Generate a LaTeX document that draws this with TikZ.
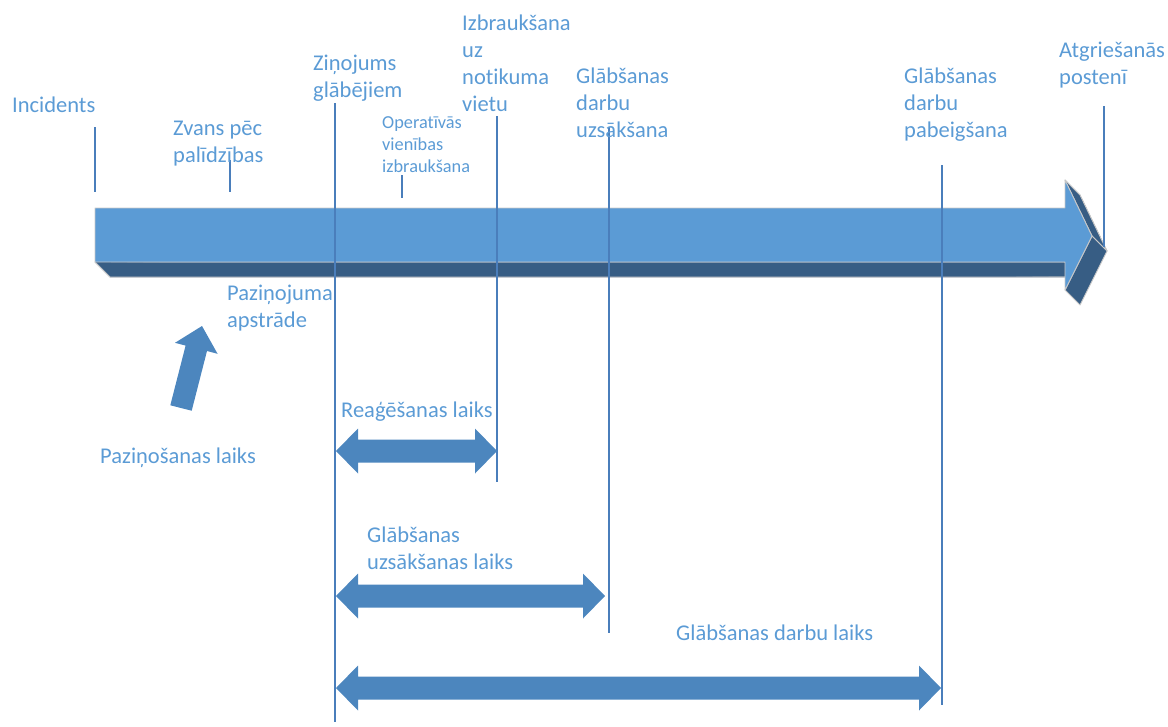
\documentclass[tikz,border=0pt]{standalone}
\usepackage{fontspec}
\setmainfont{Carlito}[Ligatures=NoCommon]
\definecolor{txt}{HTML}{5B9BD5}
\definecolor{face}{HTML}{5B9BD5}
\definecolor{side}{HTML}{375D84}
\definecolor{edgegray}{HTML}{C8C8C8}
\definecolor{tick}{HTML}{4A7EBB}
\definecolor{blk}{HTML}{4C86BE}
\newcommand\dblarrow[3]{% x1, x2, y
  \fill[blockarrow] (#1,#3) -- (#1+22,#3-22.5) -- (#1+22,#3-11.5) -- (#2-22,#3-11.5)
    -- (#2-22,#3-22.5) -- (#2,#3) -- (#2-22,#3+22.5) -- (#2-22,#3+11.5)
    -- (#1+22,#3+11.5) -- (#1+22,#3+22.5) -- cycle;}
\begin{document}
\begin{tikzpicture}[x=1pt,y=-1pt,
  lbl/.style={anchor=base west, inner sep=0pt, text=txt, font=\fontsize{22.5}{27.3}\selectfont},
  smalllbl/.style={lbl, font=\fontsize{18.3}{22.4}\selectfont},
  tickline/.style={draw=tick, line width=1.3pt},
  blockarrow/.style={fill=blk},
  sideface/.style={fill=side, draw=edgegray, line width=0.9pt, line join=round},
  frontface/.style={fill=face, draw=edgegray, line width=0.9pt, line join=round}]
\useasboundingbox (0,0) rectangle (1168,726);

% ---- main 3D arrow ----
\fill[sideface] (95,262) -- (1065,262) -- (1080,277) -- (110,277) -- cycle;
\fill[sideface] (1065,180) -- (1092,236) -- (1107,251) -- (1080,195) -- cycle;
\filldraw[sideface] (1092,236) -- (1065,290) -- (1080,305) -- (1107,251) -- cycle;
\draw[sideface] (95,262) -- (110,277) -- (1065,277);
\draw[sideface] (1065,180) -- (1080,195) -- (1107,251);
\filldraw[frontface] (95,208) -- (1065,208) -- (1065,180) -- (1092,236) -- (1065,290)
  -- (1065,262) -- (95,262) -- cycle;

% ---- tick lines ----
\coordinate (incA) at (95,127);   \coordinate (incB) at (95,192);
\coordinate (zvaA) at (230,160);  \coordinate (zvaB) at (230,192);
\coordinate (zinA) at (335,103);  \coordinate (zinB) at (335,722);
\coordinate (opeA) at (402,175);  \coordinate (opeB) at (402,198);
\coordinate (izbA) at (497,116);  \coordinate (izbB) at (497,482);
\coordinate (uzsA) at (609,127);  \coordinate (uzsB) at (609,633);
\coordinate (pabA) at (942,165);  \coordinate (pabB) at (942,705);
\coordinate (atgA) at (1104,106); \coordinate (atgB) at (1104,247);
\draw[tickline] (incA) -- (incB);
\draw[tickline] (zvaA) -- (zvaB);
\draw[tickline] (zinA) -- (zinB);
\draw[tickline] (opeA) -- (opeB);
\draw[tickline] (izbA) -- (izbB);
\draw[tickline] (uzsA) -- (uzsB);
\draw[tickline] (pabA) -- (pabB);
\draw[tickline] (atgA) -- (atgB);

% ---- block arrows ----
\dblarrow{336}{497}{451}
\dblarrow{336}{605}{596}
\dblarrow{336}{941}{688}
\fill[blockarrow] (170.3,405.3) -- (185.6,345.6) -- (175.0,342.8) -- (202,326)
  -- (217.6,353.8) -- (207.0,351.0) -- (191.7,410.7) -- cycle;

% ---- labels ----
\node[lbl] (incidents) at (12,112) {Incidents};
\node[lbl] (zvans) at (173,135) {\vtop{\hbox{Zvans pēc}\hbox{palīdzības}}};
\node[lbl] (zinojums) at (313,70) {\vtop{\hbox{Ziņojums}\hbox{glābējiem}}};
\node[smalllbl] (operativas) at (382,128) {\vtop{\hbox{Operatīvās}\hbox{vienības}\hbox{izbraukšana}}};
\node[lbl] (izbraukshana) at (462,30) {\vtop{\hbox{Izbraukšana}\hbox{uz}\hbox{notikuma}\hbox{vietu}}};
\node[lbl] (uzsaksana) at (576,83) {\vtop{\hbox{Glābšanas}\hbox{darbu}\hbox{uzsākšana}}};
\node[lbl] (pabeigsana) at (904,83) {\vtop{\hbox{Glābšanas}\hbox{darbu}\hbox{pabeigšana}}};
\node[lbl] (atgriesanas) at (1059,57) {\vtop{\hbox{Atgriešanās}\hbox{postenī}}};
\node[lbl] (apstrade) at (227,300) {\vtop{\hbox{Paziņojuma}\hbox{apstrāde}}};
\node[lbl] (pazinosanas) at (100,463) {Paziņošanas laiks};
\node[lbl] (reagesanas) at (341,417) {Reaģēšanas laiks};
\node[lbl] (uzsaksanaslaiks) at (367,542) {\vtop{\hbox{Glābšanas}\hbox{uzsākšanas laiks}}};
\node[lbl] (darbulaiks) at (676,640) {Glābšanas darbu laiks};
\end{tikzpicture}
\end{document}
